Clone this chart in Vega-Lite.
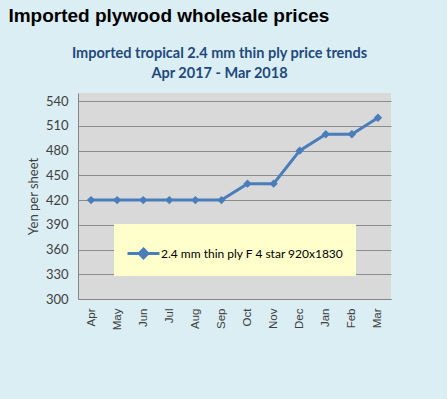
{
  "$schema": "https://vega.github.io/schema/vega-lite/v6.json",
  "background": "#DBEEF4",
  "padding": {"left": 8, "top": 6, "right": 56, "bottom": 73},
  "title": {
    "text": "Imported plywood wholesale prices",
    "anchor": "start",
    "font": "Liberation Sans",
    "fontSize": 19,
    "fontWeight": "bold",
    "color": "#000000",
    "dx": -19,
    "offset": 20
  },
  "config": {"view": {"stroke": null}},
  "vconcat": [
    {
      "width": 313,
      "height": 206,
      "title": {
        "text": ["Imported tropical 2.4 mm thin ply price trends", "Apr 2017 - Mar 2018"],
        "font": "Lato",
        "fontSize": 14.5,
        "fontWeight": "bold",
        "color": "#1F497D",
        "anchor": "middle",
        "dx": -15,
        "offset": 12,
        "lineHeight": 20
      },
      "view": {"fill": "#D9D9D9", "stroke": null},
      "data": {
        "values": [
          {"month": "Apr", "price": 420, "series": "2.4 mm thin ply F 4 star 920x1830"},
          {"month": "May", "price": 420, "series": "2.4 mm thin ply F 4 star 920x1830"},
          {"month": "Jun", "price": 420, "series": "2.4 mm thin ply F 4 star 920x1830"},
          {"month": "Jul", "price": 420, "series": "2.4 mm thin ply F 4 star 920x1830"},
          {"month": "Aug", "price": 420, "series": "2.4 mm thin ply F 4 star 920x1830"},
          {"month": "Sep", "price": 420, "series": "2.4 mm thin ply F 4 star 920x1830"},
          {"month": "Oct", "price": 440, "series": "2.4 mm thin ply F 4 star 920x1830"},
          {"month": "Nov", "price": 440, "series": "2.4 mm thin ply F 4 star 920x1830"},
          {"month": "Dec", "price": 480, "series": "2.4 mm thin ply F 4 star 920x1830"},
          {"month": "Jan", "price": 500, "series": "2.4 mm thin ply F 4 star 920x1830"},
          {"month": "Feb", "price": 500, "series": "2.4 mm thin ply F 4 star 920x1830"},
          {"month": "Mar", "price": 520, "series": "2.4 mm thin ply F 4 star 920x1830"}
        ]
      },
      "mark": {
        "type": "line",
        "strokeWidth": 3,
        "point": {"shape": "diamond", "size": 70, "filled": true, "opacity": 1}
      },
      "encoding": {
        "x": {
          "field": "month",
          "type": "ordinal",
          "sort": null,
          "scale": {"type": "point", "padding": 0.5},
          "axis": {
            "title": null,
            "labelAngle": -90,
            "labelFont": "Liberation Sans",
            "labelFontSize": 11.5,
            "labelColor": "#404040",
            "labelPadding": 9,
            "ticks": false,
            "grid": false,
            "domainColor": "#868686",
            "domainWidth": 1
          }
        },
        "y": {
          "field": "price",
          "type": "quantitative",
          "scale": {"domain": [300, 550], "nice": false, "zero": false},
          "axis": {
            "values": [300, 330, 360, 390, 420, 450, 480, 510, 540],
            "title": "Yen per sheet",
            "titleFont": "Lato",
            "titleFontSize": 13,
            "titleFontWeight": "normal",
            "titleColor": "#404040",
            "titlePadding": 5,
            "labelFont": "Lato",
            "labelFontSize": 13,
            "labelColor": "#404040",
            "labelPadding": 10,
            "ticks": false,
            "gridColor": "#8C8C8C",
            "gridWidth": 1,
            "domainColor": "#868686",
            "domainWidth": 1
          }
        },
        "color": {
          "field": "series",
          "type": "nominal",
          "scale": {"range": ["#4A7EBB"]},
          "legend": {
            "title": null,
            "orient": "none",
            "legendX": 36,
            "legendY": 131,
            "fillColor": "#FFFFCC",
            "padding": 12,
            "symbolType": "M-1,0L1,0M0,-0.27L0.27,0L0,0.27L-0.27,0Z",
            "symbolSize": 1024,
            "symbolStrokeWidth": 3,
            "symbolFillColor": "#4A7EBB",
            "symbolStrokeColor": "#4A7EBB",
            "labelFont": "Lato",
            "labelFontSize": 12,
            "labelLimit": 400,
            "labelColor": "#000000",
            "labelOffset": 0
          }
        }
      }
    }
  ]
}
